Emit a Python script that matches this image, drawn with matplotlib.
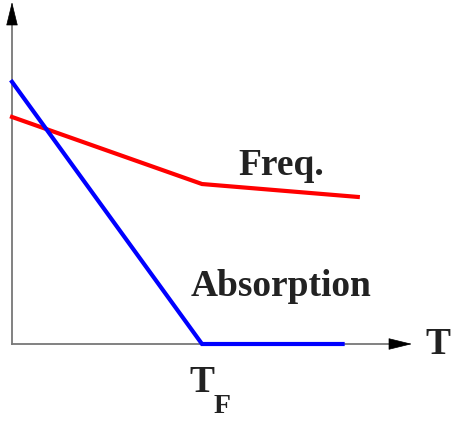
import matplotlib
matplotlib.use("Agg")
import matplotlib.pyplot as plt

# data (arbitrary units, T_F = 1)
t_abs = [0.0, 1.0, 1.74]
absorption = [1.38, 0.0, 0.0]
t_freq = [0.0, 1.0, 1.82]
freq = [1.195, 0.842, 0.774]

fig = plt.figure(figsize=(4.52, 4.22), dpi=100)
ax = fig.add_axes([0, 0, 1, 1])
ax.set_xlim(-12/190, 440/190)
ax.set_ylim(-78/190, 344/190)
ax.axis("off")

# axes with arrows
ax.plot([0, 0], [0, 322/190], color="#777777", lw=1.3)
ax.plot([0, 392/190], [0, 0], color="#777777", lw=1.3)
ax.annotate("", xy=(0, 342/190), xytext=(0, 320/190),
            arrowprops=dict(arrowstyle="-|>,head_length=1.55,head_width=0.38",
                            color="black", lw=0.5, fc="black", ec="black",
                            shrinkA=0, shrinkB=0))
ax.annotate("", xy=(400/190, 0), xytext=(378/190, 0),
            arrowprops=dict(arrowstyle="-|>,head_length=1.55,head_width=0.38",
                            color="black", lw=0.5, fc="black", ec="black",
                            shrinkA=0, shrinkB=0))

ax.plot(t_freq, freq, color="#ff0000", lw=3.0, solid_joinstyle="miter")
ax.plot(t_abs, absorption, color="#0000ff", lw=3.0, solid_joinstyle="miter")

font = dict(family="Liberation Serif", weight="bold", color="#222222")
ax.text(1.416, 0.94, "Freq.", fontsize=27, ha="center", va="center", **font)
ax.text(1.416, 0.30, "Absorption", fontsize=27, ha="center", va="center", **font)
ax.text(2.242, 0.0, "T", fontsize=27, ha="center", va="center", **font)
ax.text(1.0, -0.20, "T", fontsize=27, ha="center", va="center", **font)
ax.text(1.105, -0.33, "F", fontsize=20, ha="center", va="center", **font)

fig.savefig("out.png", dpi=100)
